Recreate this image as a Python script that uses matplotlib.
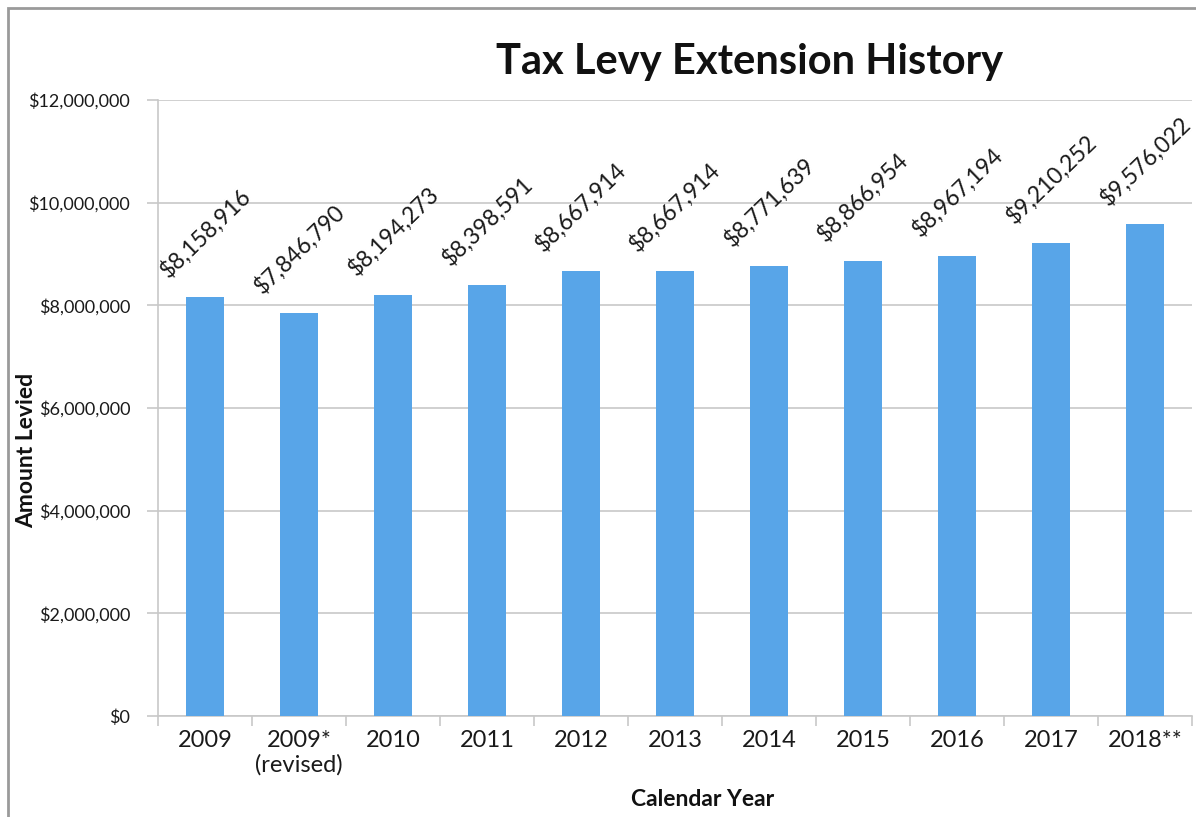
import matplotlib
matplotlib.use("Agg")
import matplotlib.pyplot as plt
from matplotlib.ticker import FuncFormatter, FixedLocator, MultipleLocator
from matplotlib.patches import Rectangle

categories = ["2009", "2009*\n(revised)", "2010", "2011", "2012", "2013",
              "2014", "2015", "2016", "2017", "2018**"]
values = [8158916, 7846790, 8194273, 8398591, 8667914, 8667914,
          8771639, 8866954, 8967194, 9210252, 9576022]

plt.rcParams['font.family'] = ['Lato', 'DejaVu Sans']

fig = plt.figure(figsize=(11.96, 8.17), dpi=100)
ax = fig.add_axes([158/1196, 1-716/817, 1034/1196, 616/817])

x = list(range(len(categories)))
bar_color = '#58A5E8'
ax.bar(x, values, width=0.4, color=bar_color, zorder=3)

ax.set_xlim(-0.5, len(categories) - 0.5)
ax.set_ylim(0, 12000000)
ax.yaxis.set_major_locator(MultipleLocator(2000000))
ax.yaxis.set_major_formatter(FuncFormatter(lambda v, p: "${:,.0f}".format(v)))
ax.grid(axis='y', color='#c8c8c8', linewidth=1.2, zorder=0)

ax.set_xticks(x)
ax.set_xticklabels(categories, fontsize=17, color='#1a1a1a')
ax.xaxis.set_minor_locator(FixedLocator([i + 0.5 for i in range(-1, len(categories))]))
ax.tick_params(axis='x', which='major', length=0, pad=10)
ax.tick_params(axis='x', which='minor', length=7, color='#c8c8c8', width=1.2)
ax.tick_params(axis='y', length=8, color='#c8c8c8', width=1.2, labelsize=13,
               labelcolor='#1a1a1a', pad=12)

for s in ['top', 'right']:
    ax.spines[s].set_visible(False)
for s in ['left', 'bottom']:
    ax.spines[s].set_color('#c8c8c8')
    ax.spines[s].set_linewidth(1.2)

for xi, v in zip(x, values):
    ax.annotate("${:,.0f}".format(v), xy=(xi, v), xytext=(0, 11),
                textcoords='offset points', ha='center', va='bottom',
                rotation=44, fontsize=16.5, color='#1a1a1a', zorder=4)

fig.text(750/1196, 1-62/817, "Tax Levy Extension History", ha='center', va='center',
         fontsize=30, fontweight='bold', color='#111111')
fig.text(27/1196, 1-450/817, "Amount Levied", ha='center', va='center', rotation=90,
         fontsize=16.5, fontweight='bold', color='#111111')
fig.text(703/1196, 1-800/817, "Calendar Year", ha='center', va='center',
         fontsize=16.5, fontweight='bold', color='#111111')

fig.patches.append(Rectangle((8/1196, -0.1), 1.2, 1.1 - 8/817, transform=fig.transFigure,
                             fill=False, edgecolor='#9a9a9a', linewidth=2))

fig.savefig("out.png", dpi=100)
